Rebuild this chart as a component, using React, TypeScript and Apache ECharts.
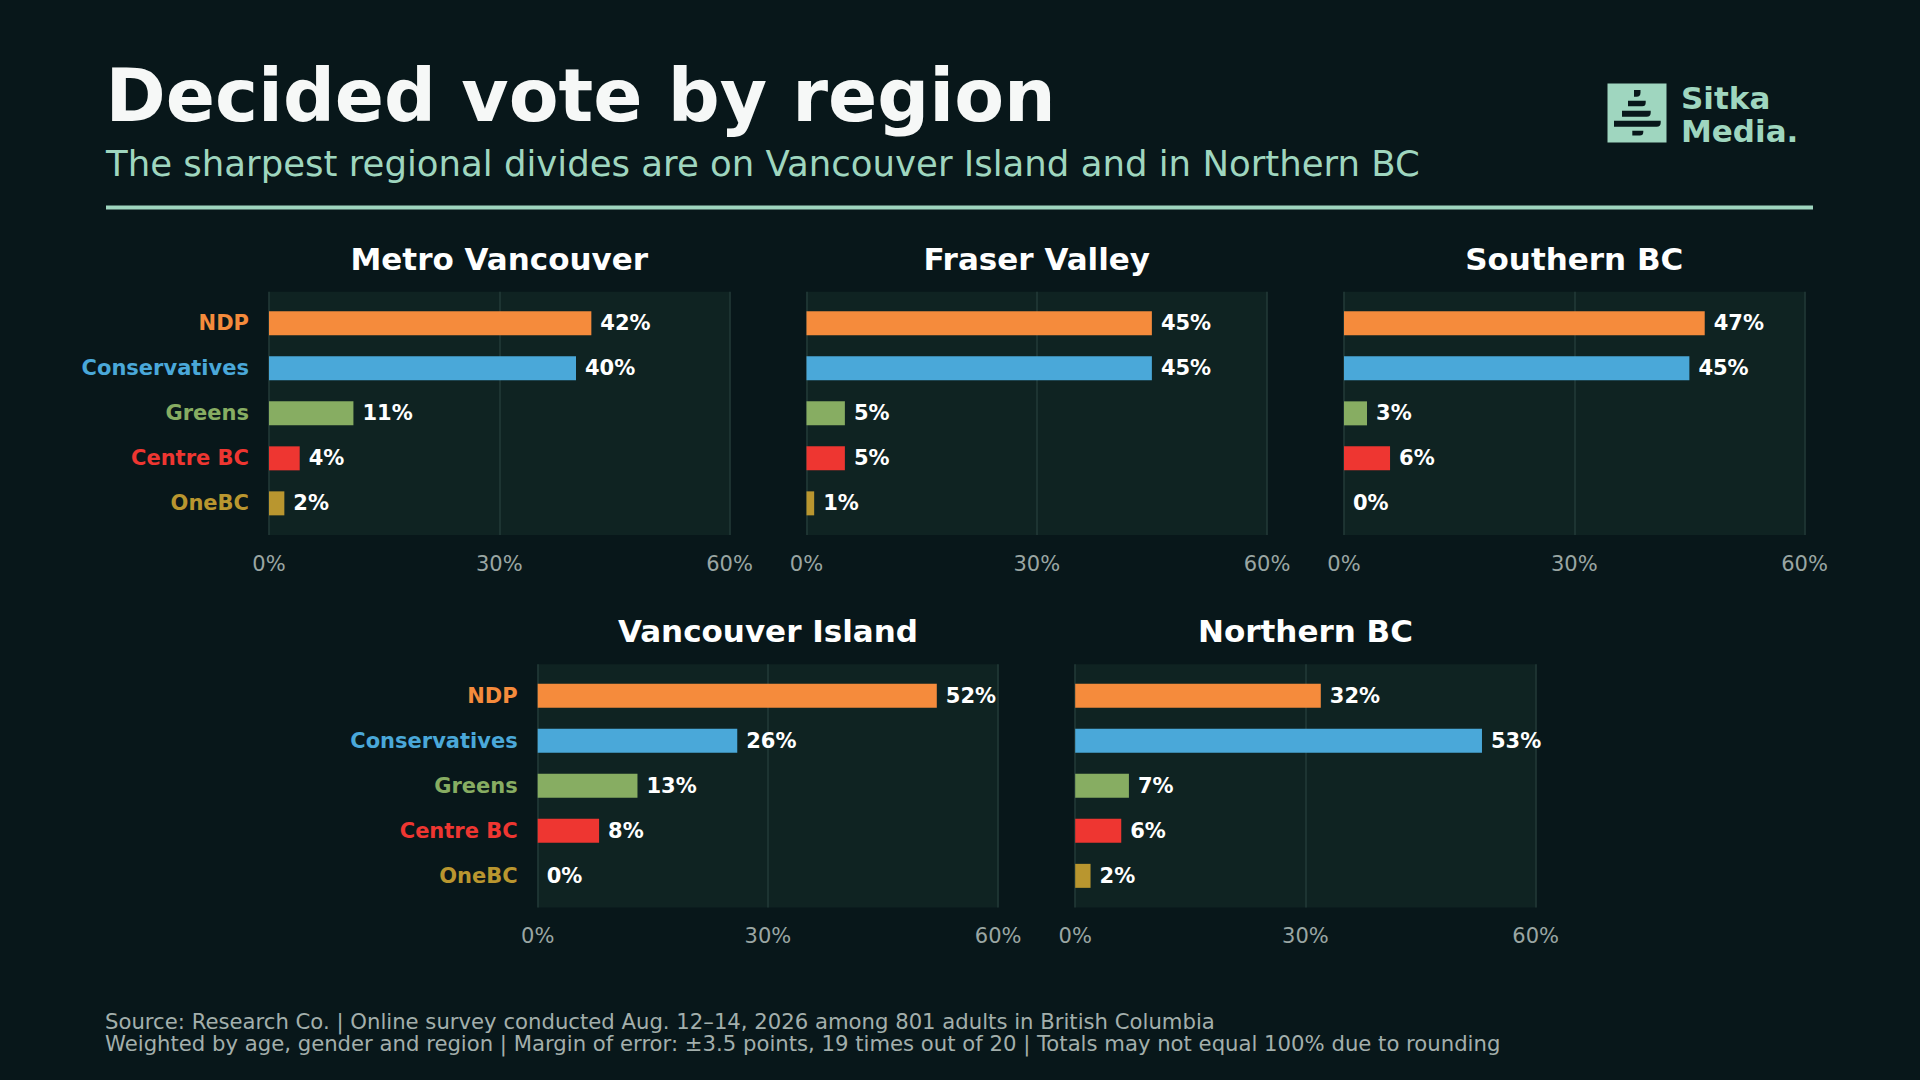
import React, { useEffect, useRef } from "react";
import * as echarts from "echarts";

// ---- Data ----
const parties = ["NDP", "Conservatives", "Greens", "Centre BC", "OneBC"];
const regions = ["Metro Vancouver", "Fraser Valley", "Southern BC", "Vancouver Island", "Northern BC"];
const metroVancouver = [42, 40, 11, 4, 2];
const fraserValley = [45, 45, 5, 5, 1];
const southernBC = [47, 45, 3, 6, 0];
const vancouverIsland = [52, 26, 13, 8, 0];
const northernBC = [32, 53, 7, 6, 2];
const regionValues = [metroVancouver, fraserValley, southernBC, vancouverIsland, northernBC];
const xMin = 0;
const xMax = 60;
const xInterval = 30;

const titleText = "Decided vote by region";
const subtitleText = "The sharpest regional divides are on Vancouver Island and in Northern BC";
const footerLines = [
  "Source: Research Co. | Online survey conducted Aug. 12\u201314, 2026 among 801 adults in British Columbia",
  "Weighted by age, gender and region | Margin of error: \u00b13.5 points, 19 times out of 20 | Totals may not equal 100% due to rounding",
];

// ---- Styles ----
const partyColors = ["#f58b3c", "#4aa8d9", "#87ad62", "#ee3631", "#b9962f"];
const BG = "#08171a";
const PLOT_BG = "#0f2322";
const GRID_LINE = "#233b38";
const MINT = "#9fd6bf";
const AXIS_GRAY = "#9aa6a3";
const FOOT_GRAY = "#a3afac";
const FONT = "DejaVu Sans";

const PW = 460.5;
const BG_H = 243.3;
const BAND_H = 225;
const panelPos = [
  { l: 269, t: 291.7 },
  { l: 806.5, t: 291.7 },
  { l: 1344, t: 291.7 },
  { l: 537.7, t: 664.2 },
  { l: 1075.2, t: 664.2 },
];

function buildOption() {
  const grid: any[] = [];
  const xAxis: any[] = [];
  const yAxis: any[] = [];
  const series: any[] = [];
  const graphic: any[] = [];

  const rich: any = {};
  partyColors.forEach((c, i) => {
    rich["p" + i] = { color: c, fontSize: 21, fontWeight: "bold", fontFamily: FONT };
  });

  regions.forEach((name, i) => {
    const { l, t } = panelPos[i];
    const bgIdx = 2 * i;
    const dIdx = 2 * i + 1;
    grid.push({ left: l, top: t, width: PW, height: BG_H, show: true, backgroundColor: PLOT_BG, borderWidth: 0 });
    grid.push({ left: l, top: t + (BG_H - BAND_H) / 2, width: PW, height: BAND_H, show: false });

    xAxis.push({
      gridIndex: bgIdx,
      type: "value",
      min: xMin,
      max: xMax,
      interval: xInterval,
      axisLine: { show: false },
      axisTick: { show: false },
      axisLabel: { formatter: "{value}%", color: AXIS_GRAY, fontSize: 21, margin: 18, fontFamily: FONT },
      splitLine: { show: true, lineStyle: { color: GRID_LINE, width: 1.5 } },
    });
    yAxis.push({ gridIndex: bgIdx, type: "value", show: false, min: 0, max: 1 });

    xAxis.push({ gridIndex: dIdx, type: "value", min: xMin, max: xMax, show: false });
    yAxis.push({
      gridIndex: dIdx,
      type: "category",
      data: parties,
      inverse: true,
      axisLine: { show: false },
      axisTick: { show: false },
      splitLine: { show: false },
      axisLabel: {
        show: i === 0 || i === 3,
        margin: 20,
        formatter: (v: string, idx: number) => `{p${idx}|${v}}`,
        rich,
      },
    });

    series.push({
      type: "bar",
      xAxisIndex: dIdx,
      yAxisIndex: dIdx,
      barWidth: 24,
      data: regionValues[i].map((v, j) => ({ value: v, itemStyle: { color: partyColors[j] } })),
      label: {
        show: true,
        position: "right",
        distance: 9,
        formatter: "{c}%",
        color: "#ffffff",
        fontSize: 21,
        fontWeight: "bold",
        fontFamily: FONT,
      },
    });

    graphic.push({
      type: "text",
      x: l + PW / 2,
      y: t - 33,
      style: {
        text: name,
        fill: "#ffffff",
        fontSize: 31,
        fontWeight: "bold",
        fontFamily: FONT,
        align: "center",
        verticalAlign: "middle",
      },
    });
  });

  // Header
  graphic.push({
    type: "text",
    x: 105.5,
    y: 96,
    style: { text: titleText, fill: "#f6f8f7", fontSize: 72.6, fontWeight: "bold", fontFamily: FONT, align: "left", verticalAlign: "middle" },
  });
  graphic.push({
    type: "text",
    x: 106,
    y: 163.5,
    style: { text: subtitleText, fill: MINT, fontSize: 35.5, fontFamily: FONT, align: "left", verticalAlign: "middle" },
  });
  graphic.push({ type: "rect", shape: { x: 106, y: 205.5, width: 1707, height: 4 }, style: { fill: MINT } });

  // Logo
  graphic.push({ type: "rect", shape: { x: 1607.5, y: 83.5, width: 59, height: 59 }, style: { fill: MINT } });
  const layers = [
    { x: 1634, y: 90, w: 6.5, h: 6.7, r: 4 },
    { x: 1628, y: 100.7, w: 17.7, h: 5.5, r: 3.5 },
    { x: 1622, y: 110.7, w: 28.7, h: 6, r: 4 },
    { x: 1614, y: 120.7, w: 46.7, h: 6, r: 4 },
    { x: 1632.3, y: 130.7, w: 11, h: 4.8, r: 3.5 },
  ];
  layers.forEach((s) => {
    graphic.push({ type: "rect", shape: { x: s.x, y: s.y, width: s.w, height: s.h, r: [0, 0, s.r, 0] }, style: { fill: BG } });
  });
  graphic.push({
    type: "text",
    x: 1681,
    y: 98.3,
    style: { text: "Sitka", fill: MINT, fontSize: 31, fontWeight: "bold", fontFamily: FONT, align: "left", verticalAlign: "middle" },
  });
  graphic.push({
    type: "text",
    x: 1681,
    y: 130.7,
    style: { text: "Media.", fill: MINT, fontSize: 31, fontWeight: "bold", fontFamily: FONT, align: "left", verticalAlign: "middle" },
  });

  // Footer
  footerLines.forEach((line, k) => {
    graphic.push({
      type: "text",
      x: 105,
      y: 1021.7 + k * 21.8,
      style: { text: line, fill: FOOT_GRAY, fontSize: 21.2, fontFamily: FONT, align: "left", verticalAlign: "middle" },
    });
  });

  return {
    animation: false,
    backgroundColor: BG,
    textStyle: { fontFamily: FONT },
    grid,
    xAxis,
    yAxis,
    series,
    graphic,
  };
}

export default function App() {
  const ref = useRef<HTMLDivElement>(null);
  useEffect(() => {
    document.body.style.margin = "0";
    document.body.style.background = BG;
    if (!ref.current) return;
    const chart = echarts.init(ref.current, undefined, { renderer: "svg" });
    chart.setOption(buildOption() as any);
    return () => chart.dispose();
  }, []);
  return <div ref={ref} style={{ width: 1920, height: 1080, background: BG }} />;
}
